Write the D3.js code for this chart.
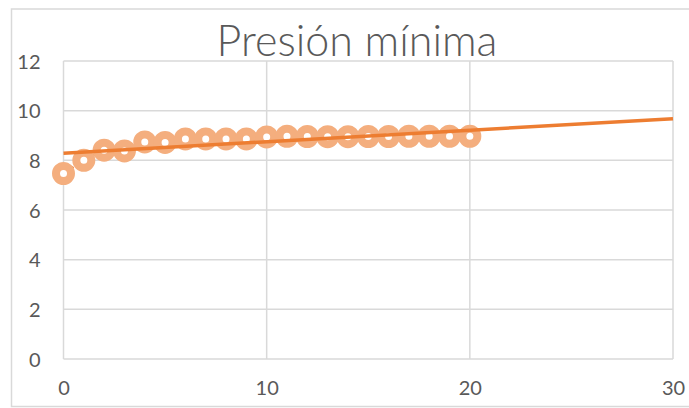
<!DOCTYPE html>
<html>
<head>
<meta charset="utf-8">
<script src="https://cdn.jsdelivr.net/npm/d3@7"></script>
<style>
  html, body { margin: 0; padding: 0; background: #fff; }
  svg { display: block; }
</style>
</head>
<body>
<svg id="chart" width="689" height="408"></svg>
<script>
// Daily minimum pressure readings
const days = [0, 1, 2, 3, 4, 5, 6, 7, 8, 9, 10, 11, 12, 13, 14, 15, 16, 17, 18, 19, 20];
const pressure = [7.47, 8.0, 8.41, 8.38, 8.74, 8.72, 8.86, 8.86, 8.86, 8.86, 8.94,
                  8.97, 8.96, 8.95, 8.95, 8.96, 8.96, 8.97, 8.97, 8.97, 8.97];
const xTicks = [0, 10, 20, 30];
const yTicks = [0, 2, 4, 6, 8, 10, 12];
const title = "Presión mínima";

const svg = d3.select("#chart");
const W = 689, H = 408;
const plot = { left: 63.5, right: 673, top: 61, bottom: 359 };

const x = d3.scaleLinear().domain([0, 30]).range([plot.left, plot.right]);
const y = d3.scaleLinear().domain([0, 12]).range([plot.bottom, plot.top]);

const grid = "#d9d9d9";
const textCol = "#595959";
const orange = "#ED7D31";
const markerCol = "#F4AE7E";
const font = "Lato, 'Open Sans', sans-serif";

// Chart frame
svg.append("rect")
  .attr("x", 11.5).attr("y", 9)
  .attr("width", W + 10).attr("height", 397.5)
  .attr("fill", "#fff").attr("stroke", grid).attr("stroke-width", 1.5);

// Title
svg.append("text")
  .attr("x", 357).attr("y", 56)
  .attr("text-anchor", "middle")
  .attr("font-family", font)
  .attr("font-weight", 300)
  .attr("font-size", 43)
  .attr("fill", textCol)
  .text(title);

// Gridlines
svg.append("g").selectAll("line").data(yTicks).join("line")
  .attr("x1", plot.left).attr("x2", plot.right)
  .attr("y1", d => y(d)).attr("y2", d => y(d))
  .attr("stroke", grid).attr("stroke-width", 1.5);
svg.append("g").selectAll("line").data(xTicks).join("line")
  .attr("x1", d => x(d)).attr("x2", d => x(d))
  .attr("y1", plot.top).attr("y2", plot.bottom)
  .attr("stroke", grid).attr("stroke-width", 1.5);

// Axes (labels only; lines come from the grid)
const yAxis = svg.append("g")
  .attr("transform", `translate(${plot.left - 23},0)`)
  .call(d3.axisLeft(y).tickValues(yTicks).tickSize(0).tickPadding(0));
yAxis.select(".domain").remove();
yAxis.selectAll("text")
  .attr("font-family", font)
  .attr("font-size", 20).attr("fill", textCol).attr("dy", "0.35em");

const xAxis = svg.append("g")
  .attr("transform", `translate(0,${plot.bottom + 22})`)
  .call(d3.axisBottom(x).tickValues(xTicks).tickSize(0).tickPadding(0));
xAxis.select(".domain").remove();
xAxis.selectAll("text")
  .attr("font-family", font)
  .attr("font-size", 20).attr("fill", textCol).attr("dy", "0.71em");

// Series connecting line (dotted, beneath markers)
const pts = days.map((d, i) => [d, pressure[i]]);
svg.append("path")
  .datum(pts)
  .attr("d", d3.line().x(d => x(d[0])).y(d => y(d[1])))
  .attr("fill", "none").attr("stroke", orange)
  .attr("stroke-width", 2.5).attr("stroke-dasharray", "2,3");

// Markers
svg.append("g").selectAll("circle").data(pts).join("circle")
  .attr("cx", d => x(d[0])).attr("cy", d => y(d[1]))
  .attr("r", 7.5)
  .attr("fill", "#fff")
  .attr("stroke", markerCol).attr("stroke-width", 8);

// Linear trend line (least squares over the series)
const mx = d3.mean(days), my = d3.mean(pressure);
const sxy = d3.sum(days, (d, i) => (d - mx) * (pressure[i] - my));
const sxx = d3.sum(days, d => (d - mx) * (d - mx));
const slope = sxy / sxx, intercept = my - slope * mx;
svg.append("line")
  .attr("x1", x(0)).attr("y1", y(intercept))
  .attr("x2", x(30)).attr("y2", y(intercept + slope * 30))
  .attr("stroke", orange).attr("stroke-width", 3.5);
</script>
</body>
</html>
